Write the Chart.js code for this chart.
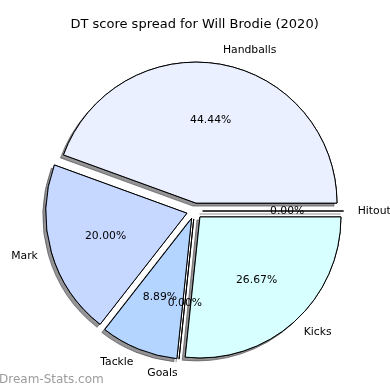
<!DOCTYPE html>
<html>
<head>
<meta charset="utf-8">
<script src="https://cdn.jsdelivr.net/npm/chart.js@4"></script>
<style>
  body { margin: 0; background: #fff; }
  #wrap { width: 390px; height: 390px; position: relative; }
</style>
</head>
<body>
<div id="wrap"><canvas id="pieChart"></canvas></div>
<script>
// Data (in the order matplotlib drew them, counter-clockwise from 3 o'clock)
const categories = ['Handballs', 'Mark', 'Tackle', 'Goals', 'Kicks', 'Hitout'];
const counts = [20, 9, 4, 0, 12, 0];
const colours = ['#eaf0ff', '#c6d8ff', '#b4d5ff', '#b4d5ff', '#d8ffff', '#d8ffff'];
const chartTitle = 'DT score spread for Will Brodie (2020)';

// Chart.js goes clockwise, so reverse to get the same layout
const labels = categories.slice().reverse();
const values = counts.slice().reverse();
const bgColours = colours.slice().reverse();
const total = values.reduce((a, b) => a + b, 0);

const EXPLODE = 8;

function drawZeroLines(chart) {
    const ctx = chart.ctx;
    chart.getDatasetMeta(0).data.forEach((el, i) => {
        if (values[i] !== 0) return;
        ctx.beginPath();
        ctx.moveTo(el.x, el.y);
        ctx.lineTo(el.x + el.outerRadius * Math.cos(el.startAngle), el.y + el.outerRadius * Math.sin(el.startAngle));
        ctx.strokeStyle = '#000';
        ctx.lineWidth = 1;
        ctx.stroke();
    });
}

const piePlugin = {
    id: 'pieExtras',
    afterDatasetUpdate(chart, args) {
        // explode every wedge along its middle angle
        args.meta.data.forEach(el => {
            const mid = (el.startAngle + el.endAngle) / 2;
            el.x += EXPLODE * Math.cos(mid);
            el.y += EXPLODE * Math.sin(mid);
        });
    },
    beforeDatasetsDraw(chart) {
        // shadow pass, the real wedges are drawn on top of it
        const ctx = chart.ctx;
        ctx.save();
        ctx.shadowColor = 'rgba(60, 60, 66, 0.55)';
        ctx.shadowOffsetX = -3;
        ctx.shadowOffsetY = 3;
        ctx.shadowBlur = 0;
        chart.getDatasetMeta(0).data.forEach(el => el.draw(ctx));
        drawZeroLines(chart);
        ctx.restore();
    },
    afterDatasetsDraw(chart) {
        chart.ctx.save();
        drawZeroLines(chart);
        chart.ctx.restore();
    },
    afterDraw(chart) {
        const ctx = chart.ctx;
        ctx.save();
        ctx.fillStyle = '#000';
        ctx.font = '10.8px "DejaVu Sans"';
        chart.getDatasetMeta(0).data.forEach((el, i) => {
            const mid = (el.startAngle + el.endAngle) / 2;
            const r = el.outerRadius;
            // category label
            const lx = el.x + 1.1 * r * Math.cos(mid);
            const ly = el.y + 1.1 * r * Math.sin(mid);
            ctx.textAlign = Math.cos(mid) > 0 ? 'left' : 'right';
            ctx.textBaseline = 'middle';
            ctx.fillText(labels[i], lx, ly);
            // percentage label
            const px = el.x + 0.6 * r * Math.cos(mid);
            const py = el.y + 0.6 * r * Math.sin(mid);
            ctx.textAlign = 'center';
            ctx.fillText((values[i] / total * 100).toFixed(2) + '%', px, py);
        });
        // watermark
        ctx.fillStyle = '#9c9c9c';
        ctx.font = '12px "DejaVu Sans"';
        ctx.textAlign = 'left';
        ctx.textBaseline = 'middle';
        ctx.fillText('Dream-Stats.com', -1, 380);
        ctx.restore();
    }
};

new Chart(document.getElementById('pieChart').getContext('2d'), {
    type: 'pie',
    data: {
        labels: labels,
        datasets: [{
            data: values,
            backgroundColor: bgColours,
            borderColor: '#000',
            borderWidth: 1,
            borderJoinStyle: 'miter'
        }]
    },
    options: {
        responsive: true,
        maintainAspectRatio: false,
        animation: false,
        events: [],
        rotation: 90,
        radius: 141,
        layout: { padding: { top: 0, bottom: 10.4, left: 0, right: 0.8 } },
        plugins: {
            legend: { display: false },
            tooltip: { enabled: false },
            title: {
                display: true,
                text: chartTitle,
                color: '#000',
                font: { family: 'DejaVu Sans', size: 13, weight: 'normal' },
                padding: { top: 17.2, bottom: 9.6 }
            }
        }
    },
    plugins: [piePlugin]
});
</script>
</body>
</html>
